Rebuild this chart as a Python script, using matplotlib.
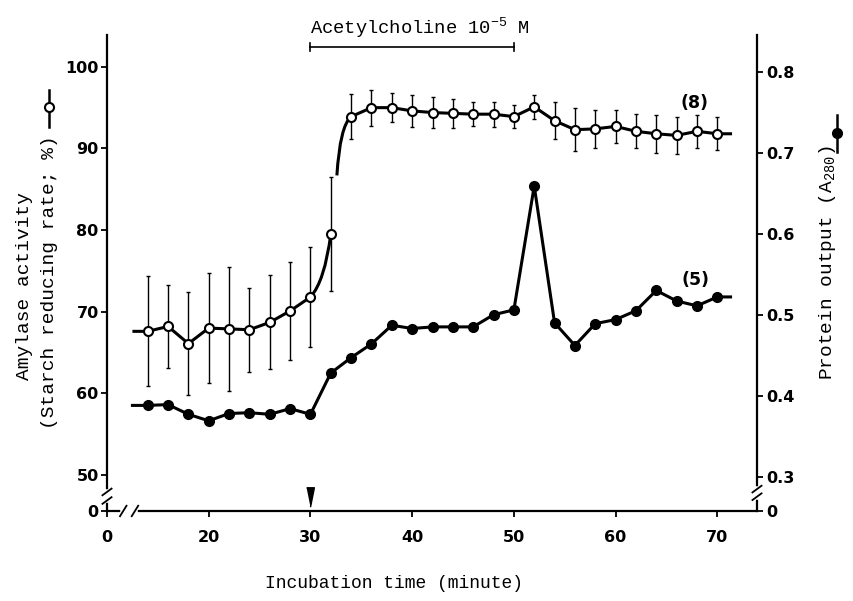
import numpy as np
import matplotlib.pyplot as plt
from matplotlib.path import Path
from matplotlib.patches import PathPatch
from matplotlib.lines import Line2D
from matplotlib.transforms import blended_transform_factory

plt.rcParams['mathtext.fontset'] = 'custom'
plt.rcParams['mathtext.rm'] = 'Liberation Mono'
plt.rcParams['mathtext.it'] = 'Liberation Mono'

MONO = 'Liberation Mono'
SANS = 'DejaVu Sans'

# incubation time (min)
time_min = [14, 16, 18, 20, 22, 24, 26, 28, 30, 32, 34, 36, 38, 40, 42,
            44, 46, 48, 50, 52, 54, 56, 58, 60, 62, 64, 66, 68, 70]
# amylase activity (%), open circles, with error bars
amylase = [67.6, 68.2, 66.1, 68.0, 67.9, 67.8, 68.7, 70.1, 71.8, 79.5, 93.9,
           95.0, 95.0, 94.6, 94.4, 94.3, 94.2, 94.2, 93.9, 95.1, 93.4, 92.3,
           92.4, 92.7, 92.1, 91.8, 91.6, 92.1, 91.8]
amylase_err = [6.75, 5.1, 6.35, 6.75, 7.6, 5.15, 5.75, 6.0, 6.1, 7.0, 2.8, 2.2,
               1.75, 2.0, 1.85, 1.8, 1.5, 1.55, 1.45, 1.5, 2.3, 2.65, 2.3, 2.05,
               2.1, 2.35, 2.3, 2.05, 2.0]
# protein output (A280), filled circles
protein = [0.388, 0.389, 0.377, 0.369, 0.378, 0.379, 0.377, 0.384, 0.377,
           0.428, 0.447, 0.464, 0.487, 0.483, 0.485, 0.485, 0.485, 0.500,
           0.506, 0.659, 0.490, 0.462, 0.489, 0.494, 0.505, 0.530, 0.517,
           0.511, 0.522]

ach_start, ach_end = 30, 50
x_ticks = [10, 20, 30, 40, 50, 60, 70]
x_labels = ['0', '20', '30', '40', '50', '60', '70']
left_ticks = [45.6, 50, 60, 70, 80, 90, 100]
left_labels = ['0', '50', '60', '70', '80', '90', '100']
right_ticks = [0.2576, 0.3, 0.4, 0.5, 0.6, 0.7, 0.8]
right_labels = ['0', '0.3', '0.4', '0.5', '0.6', '0.7', '0.8']

fig = plt.figure(figsize=(8.54, 6.01), dpi=100)
ax = fig.add_axes([0.1253, 0.1498, 0.7611, 0.7920])
ax2 = ax.twinx()

ax.set_xlim(10, 73.9)
ax.set_ylim(45.6, 103.9)
ax2.set_ylim(0.2576, 0.8456)

for sp in ['top', 'right']:
    ax.spines[sp].set_visible(False)
for sp in ['top', 'left', 'bottom']:
    ax2.spines[sp].set_visible(False)
for sp in ax.spines.values():
    sp.set_linewidth(1.6)
ax2.spines['right'].set_linewidth(1.6)

tick_font = dict(fontfamily=SANS, fontweight='bold', fontsize=11.5)
ax.set_xticks(x_ticks)
ax.set_xticklabels(x_labels, **tick_font)
ax.set_yticks(left_ticks)
ax.set_yticklabels(left_labels, **tick_font)
ax2.set_yticks(right_ticks)
ax2.set_yticklabels(right_labels, **tick_font)
ax.tick_params(axis='x', direction='out', length=4, width=1.3, pad=10)
ax.tick_params(axis='y', direction='out', length=4, width=1.3, pad=2)
ax2.tick_params(axis='y', direction='out', length=4, width=1.3, pad=3)

# amylase series: straight segments, curved rise with a gap
lead = 1.5
i30 = time_min.index(ach_start)
x0, y0 = time_min[i30], amylase[i30]
x1, y1 = time_min[i30 + 1], amylase[i30 + 1]
x2, y2 = time_min[i30 + 2], amylase[i30 + 2]
ax.plot([time_min[0] - lead] + time_min[:i30 + 1], [amylase[0]] + amylase[:i30 + 1],
        color='black', lw=2.2, solid_capstyle='butt', zorder=3)
rise1 = Path([(x0, y0), (x0 + 0.7 * (x1 - x0), y0 + 0.25 * (y1 - y0)), (x1, y1)],
             [Path.MOVETO, Path.CURVE3, Path.CURVE3])
s = (x1 + 0.3 * (x2 - x1), y1 + 0.5 * (y2 - y1))
rise2 = Path([s, (x1 + 0.45 * (x2 - x1), y2 - 0.08 * (y2 - y1)), (x2, y2)],
             [Path.MOVETO, Path.CURVE3, Path.CURVE3])
for p in (rise1, rise2):
    ax.add_patch(PathPatch(p, fc='none', ec='black', lw=2.2, zorder=3))
ax.plot(time_min[i30 + 2:] + [time_min[-1] + 1.3], amylase[i30 + 2:] + [amylase[-1]],
        color='black', lw=2.2, zorder=3)
ax.errorbar(time_min, amylase, yerr=amylase_err, fmt='none', ecolor='black',
            elinewidth=1.0, capsize=1.2, capthick=1.0, zorder=2)
ax.plot(time_min, amylase, 'o', ms=6.5, mfc='white', mec='black', mew=1.5, zorder=4)

# protein series
ax2.plot([time_min[0] - lead] + time_min + [time_min[-1] + 1.3],
         [protein[0]] + protein + [protein[-1]], color='black', lw=2.2, zorder=3)
ax2.plot(time_min, protein, 'o', ms=7, color='black', zorder=4)

ax.text(67.8, 95.6, '(8)', fontfamily=SANS, fontweight='bold', fontsize=12.5,
        ha='center', va='center')
ax.text(67.9, 73.9, '(5)', fontfamily=SANS, fontweight='bold', fontsize=12.5,
        ha='center', va='center')

# acetylcholine bracket
bt = blended_transform_factory(ax.transData, ax.transAxes)
ax.plot([ach_start, ach_end], [0.975, 0.975], color='black', lw=1.2,
        transform=bt, clip_on=False)
for xe in (ach_start, ach_end):
    ax.plot([xe, xe], [0.967, 0.983], color='black', lw=1.2, transform=bt, clip_on=False)
ax.text(ach_start, 1.004, r'Acetylcholine 10$^{-5}$ M', fontfamily=MONO, fontsize=13.5,
        ha='left', va='baseline', transform=bt, clip_on=False)

# arrow at start of stimulation
tri = [(-0.4, 1), (0.4, 1), (0, -1)]
ax.plot([ach_start], [0.03], marker=tri, ms=14, color='black', transform=bt,
        clip_on=False, zorder=5)

# axis breaks
def axis_break(axis, pts, horizontal):
    ta = axis.transAxes
    if horizontal:
        axis.plot([pts[0], pts[1]], [0, 0], color='white', lw=4, transform=ta,
                  clip_on=False, zorder=6)
        for p in pts:
            axis.plot([p - 0.005, p + 0.005], [-0.011, 0.011], color='black', lw=1.3,
                      transform=ta, clip_on=False, zorder=7)
    else:
        xs = 0 if axis is ax else 1
        axis.plot([xs, xs], [pts[0], pts[1]], color='white', lw=4, transform=ta,
                  clip_on=False, zorder=6)
        for p in pts:
            axis.plot([xs - 0.007, xs + 0.007], [p - 0.007, p + 0.007], color='black',
                      lw=1.3, transform=ta, clip_on=False, zorder=7)

axis_break(ax, (0.025, 0.043), True)
axis_break(ax, (0.022, 0.040), False)
axis_break(ax2, (0.030, 0.046), False)

# axis labels
fig.text(25 / 854, 1 - 192 / 601, 'Amylase activity', fontfamily=MONO, fontsize=14,
         rotation=90, ha='center', va='top')
fig.text(50 / 854, 1 - 135 / 601, '(Starch reducing rate; %)', fontfamily=MONO,
         fontsize=14, rotation=90, ha='center', va='top')
fig.text(828 / 854, 1 - 145 / 601, r'Protein output (A$_{280}$)', fontfamily=MONO,
         fontsize=14, rotation=90, ha='center', va='top')
fig.text(394 / 854, 1 - 584 / 601, 'Incubation time (minute)', fontfamily=MONO,
         fontsize=13, ha='center', va='center')

# legend keys next to axis labels
ft = fig.transFigure
fig.add_artist(Line2D([49 / 854, 49 / 854], [1 - 90 / 601, 1 - 127 / 601],
                      color='black', lw=1.8, transform=ft))
fig.add_artist(Line2D([49 / 854], [1 - 107 / 601], marker='o', ms=6.5, mfc='white',
                      mec='black', mew=1.5, transform=ft))
fig.add_artist(Line2D([837 / 854, 837 / 854], [1 - 115 / 601, 1 - 152 / 601],
                      color='black', lw=1.8, transform=ft))
fig.add_artist(Line2D([837 / 854], [1 - 133 / 601], marker='o', ms=7, color='black',
                      transform=ft))

fig.savefig('out.png', dpi=100)
